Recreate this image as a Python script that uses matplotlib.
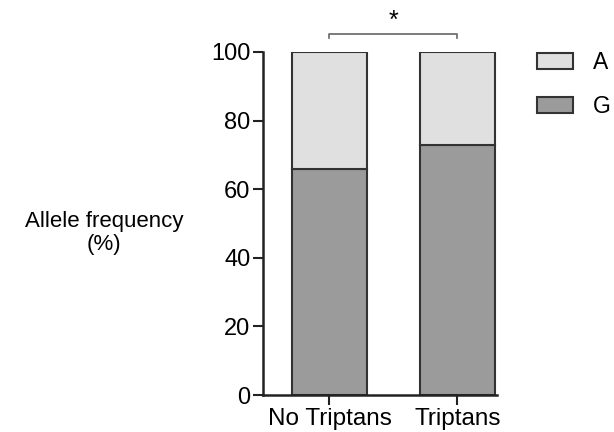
import matplotlib.pyplot as plt
from matplotlib.patches import Patch

plt.rcParams['font.family'] = ['Liberation Sans', 'DejaVu Sans']

groups = ["No Triptans", "Triptans"]
g_freq = [66, 73]
a_freq = [34, 27]
alleles = ["A", "G"]
colors = {"A": "#e0e0e0", "G": "#9b9b9b"}
edge = "#333333"

fig = plt.figure(figsize=(6.14, 4.32), dpi=100)
ax = fig.add_axes([263/614, 1-395/432, 234/614, 343/432])

x = range(len(groups))
ax.bar(x, g_freq, width=0.585, color=colors["G"], edgecolor=edge, linewidth=1.5)
ax.bar(x, a_freq, bottom=g_freq, width=0.585, color=colors["A"], edgecolor=edge, linewidth=1.5)

ax.set_xlim(-0.52, 1.31)
ax.set_ylim(0, 100)
ax.set_yticks([0, 20, 40, 60, 80, 100])
ax.set_xticks(list(x))
ax.set_xticklabels(groups)
ax.tick_params(labelsize=17, length=7, width=1.5, color="#222222", pad=2)
ax.tick_params(axis="x", labelsize=17.5)
for s in ["top", "right"]:
    ax.spines[s].set_visible(False)
for s in ["left", "bottom"]:
    ax.spines[s].set_linewidth(1.8)
    ax.spines[s].set_color("#222222")

ax.set_ylabel("Allele frequency\n(%)", rotation=0, fontsize=16, ha="center", va="center",
              linespacing=1.15)
ax.yaxis.set_label_coords(-0.68, 0.472)

# significance bracket
ax.plot([0, 0, 1, 1], [104, 105.3, 105.3, 104], color="#666666", lw=1.2, clip_on=False)
ax.text(0.5, 105.5, "*", ha="center", va="bottom", fontsize=18)

handles = [Patch(facecolor=colors[a], edgecolor=edge, linewidth=1.5) for a in alleles]
fig.legend(handles, alleles, loc="upper left", bbox_to_anchor=(526/614, 1-40/432),
           frameon=False, fontsize=16.5, handlelength=1.55, handleheight=0.7,
           handletextpad=0.85, labelspacing=0.9, borderpad=0)

fig.savefig("out.png", dpi=100)
